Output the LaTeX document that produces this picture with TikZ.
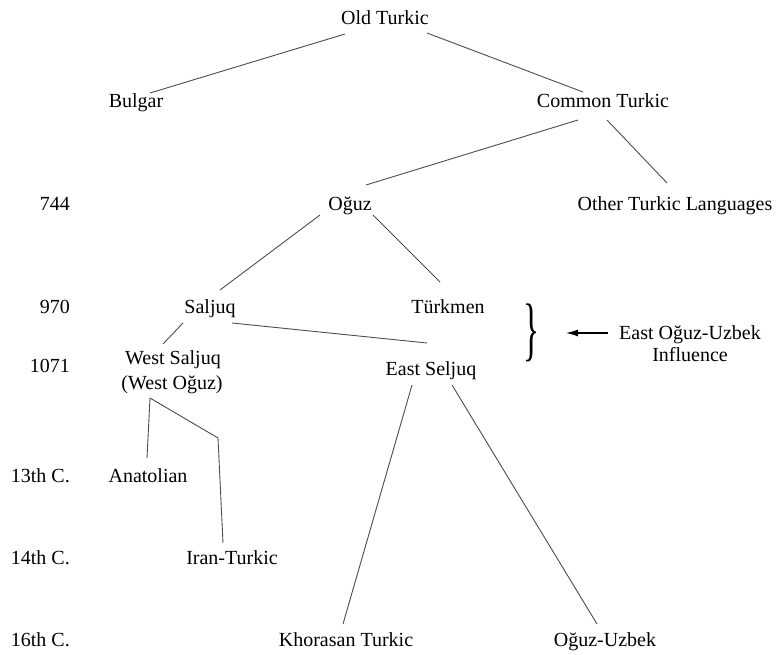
\documentclass[tikz,border=0pt]{standalone}
\usepackage{fontspec}
\usepackage{graphicx}
\setmainfont{LiberationSerif}[Extension=.ttf,UprightFont=*-Regular,BoldFont=*-Bold]
\newfontfamily\serifface{LiberationSerif}[Extension=.ttf,UprightFont=*-Regular]
\usetikzlibrary{arrows.meta}
\begin{document}
\begin{tikzpicture}[x=1pt,y=-1pt,
  lab/.style={anchor=base,inner sep=0pt,font=\serifface\fontsize{20}{23}\selectfont},
  yr/.style={anchor=base east,inner sep=0pt,font=\serifface\fontsize{20}{23}\selectfont},
  edge/.style={draw=black!70,line width=0.9pt}]
\useasboundingbox (0,0) rectangle (780,655);
% year labels
\node[yr] (y744) at (70,211) {744};
\node[yr] (y970) at (70,314) {970};
\node[yr] (y1071) at (70,373) {1071};
\node[yr] (y13) at (70,482) {13th C.};
\node[yr] (y14) at (70,564) {14th C.};
\node[yr] (y16) at (70,646) {16th C.};
% language nodes
\node[lab] (ot) at (385,25) {Old Turkic};
\node[lab] (bul) at (136,108) {Bulgar};
\node[lab] (ct) at (603,108) {Common Turkic};
\node[lab] (og) at (350,211) {Oğuz};
\node[lab] (oth) at (675,211) {Other Turkic Languages};
\node[lab] (sal) at (210,314) {Saljuq};
\node[lab] (tur) at (448,314) {Türkmen};
\node[lab] (ws) at (173,365) {West Saljuq};
\node[lab] (wo) at (172,389) {(West Oğuz)};
\node[lab] (es) at (431,375) {East Seljuq};
\node[lab] (ana) at (148,482) {Anatolian};
\node[lab] (ira) at (232,564) {Iran-Turkic};
\node[lab] (kho) at (346,646) {Khorasan Turkic};
\node[lab] (ouz) at (605,646) {Oğuz-Uzbek};
\node[lab] (eou) at (690,340) {East Oğuz-Uzbek};
\node[lab] (inf) at (690,362) {Influence};
% brace
\node[inner sep=0pt] (br) at (531,333) {\resizebox*{16pt}{58pt}{\serifface\}}};
% connector endpoints
\coordinate (a1) at (345,34);  \coordinate (b1) at (150,93);
\coordinate (a2) at (427,33);  \coordinate (b2) at (583,92);
\coordinate (a3) at (578,120); \coordinate (b3) at (366,185);
\coordinate (a4) at (607,120); \coordinate (b4) at (667,183);
\coordinate (a5) at (320,215); \coordinate (b5) at (220,290);
\coordinate (a6) at (373,215); \coordinate (b6) at (440,282);
\coordinate (a7) at (232,323); \coordinate (b7) at (427,343);
\coordinate (a8) at (183,323); \coordinate (b8) at (163,344);
\coordinate (a9) at (150,398); \coordinate (b9) at (147,458);
\coordinate (k10) at (218,438); \coordinate (b10) at (223,543);
\coordinate (a11) at (412,385); \coordinate (b11) at (343,624);
\coordinate (a12) at (452,385); \coordinate (b12) at (597,624);
\coordinate (a13) at (608,333); \coordinate (b13) at (566,333);
\draw[edge] (a1) -- (b1);
\draw[edge] (a2) -- (b2);
\draw[edge] (a3) -- (b3);
\draw[edge] (a4) -- (b4);
\draw[edge] (a5) -- (b5);
\draw[edge] (a6) -- (b6);
\draw[edge] (a7) -- (b7);
\draw[edge] (a8) -- (b8);
\draw[edge] (a9) -- (b9);
\draw[edge] (a9) -- (k10) -- (b10);
\draw[edge] (a11) -- (b11);
\draw[edge] (a12) -- (b12);
\draw[line width=1.1pt,-{Latex[length=12pt,width=7pt]}] (a13) -- (b13);
\end{tikzpicture}
\end{document}
